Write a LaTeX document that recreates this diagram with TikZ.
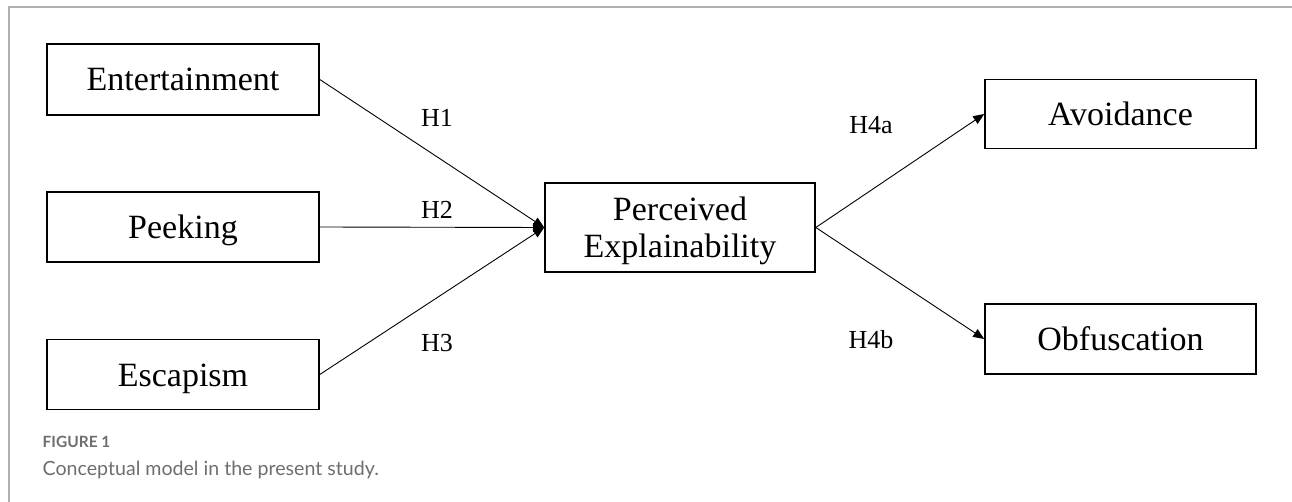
\documentclass[tikz,border=0pt]{standalone}
\usepackage{fontspec}
\setmainfont{Liberation Serif}
\newfontfamily\capfont{Lato}
\usetikzlibrary{arrows.meta}
\definecolor{framegray}{RGB}{175,175,175}
\definecolor{capgray}{RGB}{110,110,110}
\tikzset{
  box/.style={draw=black, line width=1.6pt, minimum width=272pt, inner sep=0pt, align=center, text height=23pt, text depth=0pt, font=\fontsize{34}{36}\selectfont},
  conn/.style={draw=black, line width=0.9pt, -{Triangle[length=11pt,width=9pt]}},
  hlab/.style={font=\fontsize{26}{28}\selectfont, inner sep=0pt},
  txt/.style={inner sep=0pt, align=center, font=\fontsize{34}{37}\selectfont},
}
\begin{document}
\begin{tikzpicture}[x=1pt,y=-1pt]
\useasboundingbox (0,0) rectangle (1292,502);
\draw[framegray, line width=1.5pt] (9,502) -- (9,7) -- (1292,7);

\node[box, minimum height=71pt] (ent) at (183,79.5) {Entertainment};
\node[box, minimum height=70pt] (peek) at (183,227) {Peeking};
\node[box, minimum height=70pt] (esc) at (183,374.5) {Escapism};
\node[box, minimum width=270pt, minimum height=89pt] (perc) at (680,227.5) {};
\node[txt] (perctext) at (680,230.5) {Perceived\\Explainability};
\node[box, minimum width=271pt, minimum height=69pt] (avo) at (1120.5,114) {Avoidance};
\node[box, minimum width=271pt, minimum height=70pt] (obf) at (1120.5,339) {Obfuscation};

\draw[conn] (ent.east) -- (perc.west);
\draw[conn] (peek.east) -- (perc.west);
\draw[conn] (esc.east) -- (perc.west);
\draw[conn] (perc.east) -- (avo.west);
\draw[conn] (perc.east) -- (obf.west);

\node[hlab] (h1) at (437,118) {H1};
\node[hlab] (h2) at (437,210) {H2};
\node[hlab] (h3) at (437,343) {H3};
\node[hlab] (h4a) at (871,125) {H4a};
\node[hlab] (h4b) at (871,340) {H4b};

\node[anchor=base west, inner sep=0pt, text=capgray, font=\capfont\bfseries\fontsize{15.5}{16}\selectfont] (fig) at (42.5,447) {FIGURE 1};
\node[anchor=base west, inner sep=0pt, text=capgray, font=\capfont\fontsize{19.6}{20}\selectfont] (cap) at (42.5,475) {Conceptual model in the present study.};
\end{tikzpicture}
\end{document}
